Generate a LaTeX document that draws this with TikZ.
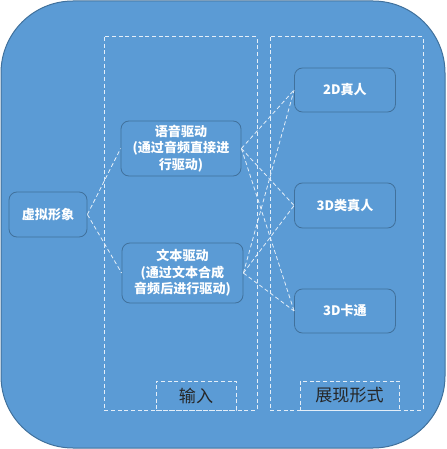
\documentclass[tikz,border=0pt]{standalone}
\usepackage{fontspec}
\newfontfamily\cjk{Noto Sans CJK SC}
\usetikzlibrary{positioning}
\definecolor{bgblue}{HTML}{5B9BD5}
\definecolor{edgeblue}{HTML}{41719C}
\definecolor{dashwhite}{HTML}{E4EEF8}

\begin{document}
\begin{tikzpicture}[x=0.75pt, y=-0.75pt]
				\tikzstyle{formbox}=[draw=edgeblue, line width=0.6pt, rounded corners=6pt, fill=bgblue, text=white, align=center, inner sep=0pt, font=\cjk\bfseries\fontsize{9.8}{12.4}\selectfont]
				\tikzstyle{column}=[draw=dashwhite, line width=0.75pt, dash pattern=on 3pt off 2pt]
				\tikzstyle{tagbox}=[column, inner sep=0pt, minimum width=60pt, minimum height=21.75pt, text=black!85, font=\cjk\fontsize{12.8}{14}\selectfont]
				\tikzstyle{link}=[draw=dashwhite, line width=0.6pt, dash pattern=on 3pt off 2pt]

				\useasboundingbox (0,0) rectangle (446,449);
				\draw [draw=edgeblue, fill=bgblue, line width=0.75pt, rounded corners=54pt] (1,1) rectangle (445,448);

				% columns
				\draw [column] (104,37) rectangle (257,410);
				\draw [column] (270,37) rectangle (423,410);
				\node (intag) at (196,395.5) [tagbox] {输入};
				\node (outtag) at (349.5,395.5) [tagbox, minimum width=74.25pt] {展现形式};

				\node (avatar) at (48,214.5) [formbox, minimum width=58.5pt, minimum height=33.75pt] {虚拟形象};

				\node (voice) at (181,148.5) [formbox, minimum width=90pt, minimum height=41.25pt] {语音驱动\\(通过音频直接进\\行驱动)};
				\node (text) at (182.5,273) [formbox, minimum width=90.75pt, minimum height=45pt] {文本驱动\\ (通过文本合成\\音频后进行驱动)};

				\node (real2d) at (345,90) [formbox, minimum width=75.75pt, minimum height=33pt] {2D真人};
				\node (real3d) at (345,205.5) [formbox, minimum width=75.75pt, minimum height=33.75pt] {3D类真人};
				\node (cartoon) at (345,311) [formbox, minimum width=75.75pt, minimum height=33pt] {3D卡通};

				\draw [link] (avatar.east) -- (voice.west);
				\draw [link] (avatar.east) -- (text.west);
				\foreach \src in {voice, text}
					\foreach \dst in {real2d, real3d, cartoon}
						\draw [link] (\src.east) -- (\dst.west);

\end{tikzpicture}
\end{document}
